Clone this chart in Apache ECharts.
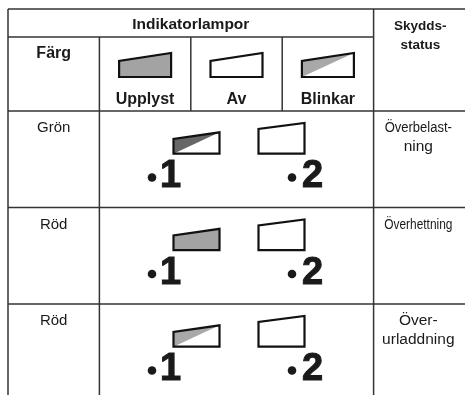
<!DOCTYPE html>
<html><head><meta charset="utf-8">
<script src="https://cdn.jsdelivr.net/npm/echarts@6/dist/echarts.min.js"></script>
<style>html,body{margin:0;padding:0;background:#fff}#c{width:465px;height:395px}</style>
</head><body><div id="c"></div>
<script>
// ---- data ----
const headerTitle = 'Indikatorlampor';
const colorHeader = 'Färg';
const statusHeader = ['Skydds-', 'status'];
const lampStates = ['Upplyst', 'Av', 'Blinkar'];
const lampStateKeys = ['on', 'off', 'blink'];
const rowColors = ['Grön', 'Röd', 'Röd'];
const lamp1State = ['blinkDark', 'on', 'blink'];
const lamp2State = ['off', 'off', 'off'];
const lampNumbers = ['1', '2'];
const statuses = [['Överbelast-', 'ning'], ['Överhettning'], ['Över-', 'urladdning']];

// ---- layout / style ----
const HDR1 = 0.29, HDR = 1.057;   // header row boundaries in row units
const NCOLS = 5;
const FONT = '"Liberation Sans", Arial, sans-serif';
const INK = '#1a1a1a';
const LINE = '#333';
const FILL = { on: '#a3a3a3', off: '#ffffff', blink: '#a8a8a8', blinkDark: '#676767' };
const statusScale = [[0.84, 1], [0.77], [1, 1]];

// table structure -> segments (in table units)
const lineSegs = [];
lineSegs.push([0, 0, NCOLS + 0.2, 0]);
lineSegs.push([0, HDR1, 4, HDR1]);
for (let r = 0; r < rowColors.length; r++) lineSegs.push([0, HDR + r, NCOLS + 0.2, HDR + r]);
lineSegs.push([0, 0, 0, 4.2]);
lineSegs.push([1, HDR1, 1, 4.2]);
lineSegs.push([2, HDR1, 2, HDR]);
lineSegs.push([3, HDR1, 3, HDR]);
lineSegs.push([4, 0, 4, 4.2]);

function txt(s, x, y, font, opts) {
  opts = opts || {};
  const st = { text: s, x: 0, y: 0, font: font, fill: INK, align: opts.align || 'center', verticalAlign: 'middle' };
  if (opts.stroke) { st.stroke = INK; st.lineWidth = opts.stroke; }
  return { type: 'text', x: x, y: y, scaleX: opts.scaleX || 1, style: st };
}
function lamp(cx, by, w, hl, hr, state) {
  const x0 = cx - w / 2, x1 = cx + w / 2;
  const pts = [[x0, by], [x0, by - hl], [x1, by - hr], [x1, by]];
  const ch = [];
  if (state === 'blink' || state === 'blinkDark') {
    ch.push({ type: 'polygon', shape: { points: pts }, style: { fill: '#fff' } });
    ch.push({ type: 'polygon', shape: { points: [[x0, by], [x0, by - hl], [x1, by - hr]] }, style: { fill: FILL[state] } });
    ch.push({ type: 'polygon', shape: { points: pts }, style: { fill: 'none', stroke: '#111', lineWidth: 2.2 } });
  } else {
    ch.push({ type: 'polygon', shape: { points: pts }, style: { fill: FILL[state], stroke: '#111', lineWidth: 2.2 } });
  }
  return ch;
}

const chart = echarts.init(document.getElementById('c'), null, { renderer: 'canvas' });
chart.setOption({
  animation: false,
  backgroundColor: '#fff',
  grid: { left: 8, top: 9, width: 462.5, height: 386 },
  xAxis: { type: 'value', min: 0, max: NCOLS, show: false },
  yAxis: { type: 'value', min: 0, max: 4, inverse: true, show: false },
  series: [
    {
      type: 'custom', clip: false, silent: true,
      data: lineSegs,
      renderItem: function (params, api) {
        const a = api.coord([api.value(0), api.value(1)]);
        const b = api.coord([api.value(2), api.value(3)]);
        return { type: 'line', shape: { x1: a[0], y1: a[1], x2: b[0], y2: b[1] },
          style: { stroke: LINE, lineWidth: 1.5 } };
      }
    },
    {
      type: 'custom', clip: false, silent: true,
      data: [[0]],
      renderItem: function (params, api) {
        const top = api.coord([0, 0])[1];
        const top2 = api.coord([0, HDR1])[1];
        const ch = [];
        ch.push(txt(headerTitle, api.coord([2, 0])[0], top + 15.5, 'bold 15.5px ' + FONT));
        ch.push(txt(colorHeader, api.coord([0.5, 0])[0], top2 + 17, 'bold 16px ' + FONT));
        statusHeader.forEach(function (s, i) {
          ch.push(txt(s, api.coord([4.5, 0])[0] + 1, top + 17 + i * 19, 'bold 13.5px ' + FONT));
        });
        lampStates.forEach(function (s, i) {
          const cx = api.coord([1.5 + i, 0])[0];
          ch.push(txt(s, cx, top2 + 63, 'bold 16px ' + FONT));
          lamp(cx, top2 + 40, 52, 16, 24, lampStateKeys[i]).forEach(function (e) { ch.push(e); });
        });
        return { type: 'group', children: ch };
      }
    },
    {
      type: 'custom', clip: false, silent: true,
      data: rowColors.map(function (c, i) { return [i]; }),
      renderItem: function (params, api) {
        const i = api.value(0);
        const top = api.coord([0, HDR + i])[1];
        const mid = api.coord([2.5, 0])[0];
        const ch = [];
        ch.push(txt(rowColors[i], api.coord([0.5, 0])[0], top + 17, '15px ' + FONT));
        lamp(mid - 40, top + 42.7, 46, 14.7, 21.4, lamp1State[i]).forEach(function (e) { ch.push(e); });
        lamp(mid + 45, top + 42.7, 46, 24.7, 30.7, lamp2State[i]).forEach(function (e) { ch.push(e); });
        const bulletX = [-84.5, 55.5], digitX = [-66, 76];
        lampNumbers.forEach(function (n, k) {
          ch.push({ type: 'circle', shape: { cx: mid + bulletX[k], cy: top + 66.5, r: 4.3 }, style: { fill: INK } });
          ch.push(txt(n, mid + digitX[k], top + 66, 'bold 38px ' + FONT, { stroke: 1 }));
        });
        const lines = statuses[i];
        const sx = api.coord([4.5, 0])[0] - 1;
        lines.forEach(function (s, k) {
          const y = lines.length === 1 ? top + 17.5 : top + 16.5 + k * 19.5;
          ch.push(txt(s, sx, y, '15.5px ' + FONT, { scaleX: statusScale[i][k] }));
        });
        return { type: 'group', children: ch };
      }
    }
  ]
});
</script>
</body></html>
